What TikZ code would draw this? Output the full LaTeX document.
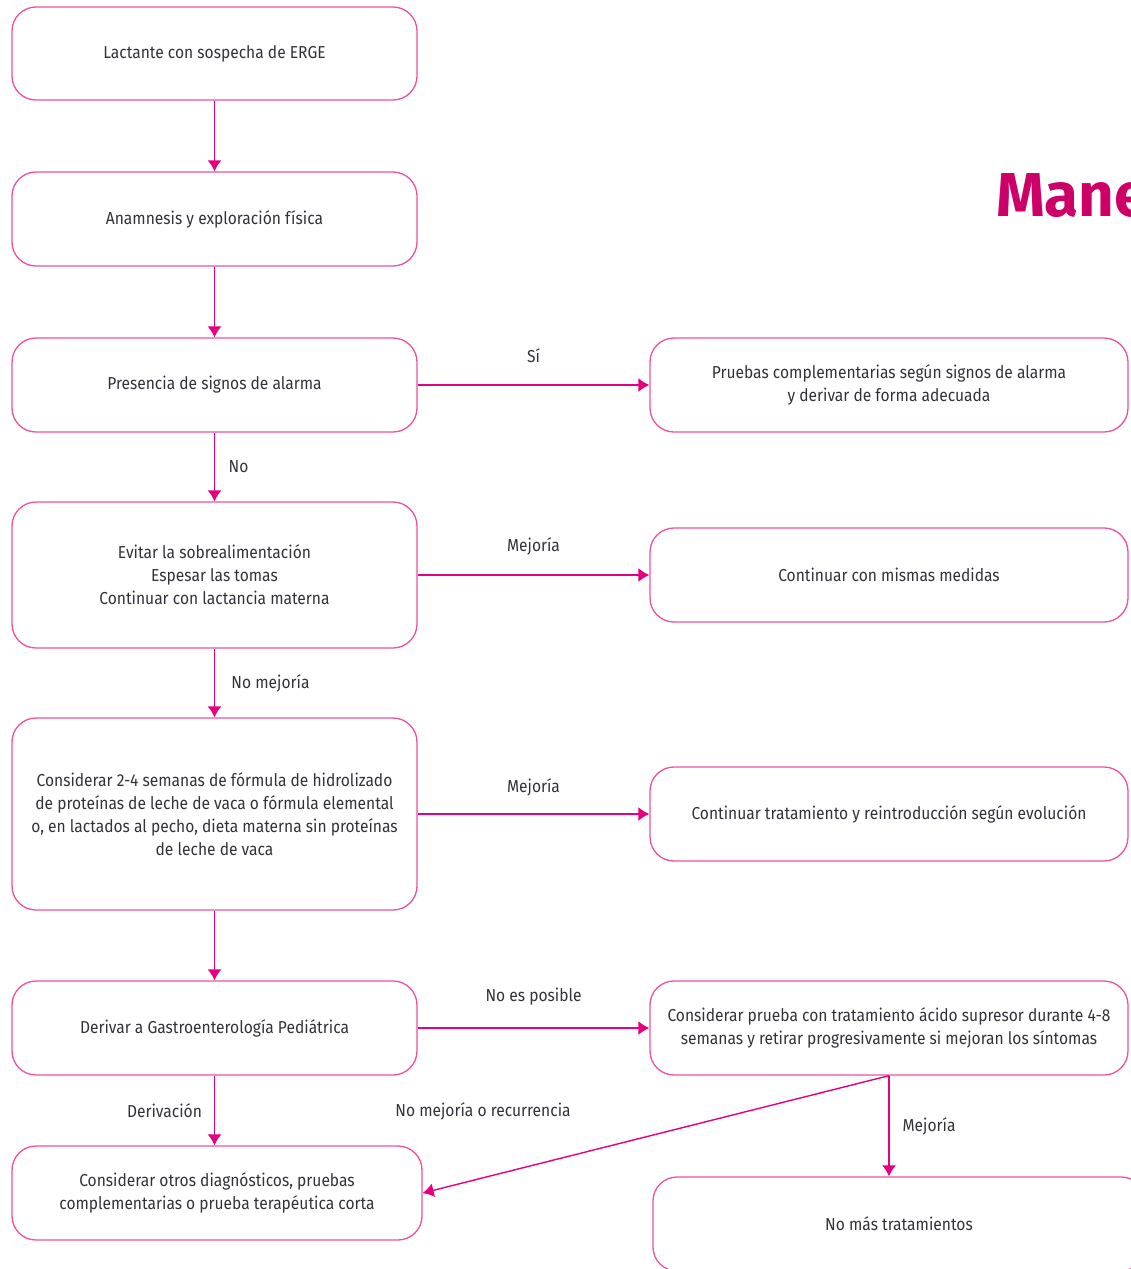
\documentclass[tikz,border=0pt]{standalone}
\usepackage{fontspec}
\setmainfont[FakeStretch=0.9]{Fira Sans}
\newfontfamily\titelfont{Fira Sans}
\usetikzlibrary{arrows.meta}
\definecolor{rosa}{RGB}{238,80,160}
\definecolor{fucsia}{RGB}{230,0,126}
\definecolor{titel}{RGB}{204,0,102}
\definecolor{texto}{RGB}{50,50,58}
\newcommand\boxh{94pt}

\begin{document}
\begin{tikzpicture}[x=1pt,y=-1pt,
  box/.style={draw=rosa, line width=1.3pt, rounded corners=24pt, inner sep=0pt,
    align=center, text=texto, font=\fontsize{17.3}{23}\selectfont},
  pfeil/.style={draw=fucsia, line width=1.4pt, -{Latex[length=11pt,width=14pt]}},
  lbl/.style={text=texto, font=\fontsize{17.3}{23}\selectfont}]

% Variablen
\def\lbreite{405pt}
\def\rbreite{478pt}
\useasboundingbox (0,0) rectangle (1130,1269);

% Titel
\node[anchor=base west, inner sep=0pt, text=titel,
  font=\titelfont\bfseries\fontsize{62}{70}\selectfont] (Titel) at (996,216) {Mane};

% Linke Spalte
\draw (214.5,53.5) node[box, minimum width=\lbreite, minimum height=93pt] (Lactante) {Lactante con sospecha de ERGE};
\draw (214.5,219) node[box, minimum width=\lbreite, minimum height=\boxh] (Anamnesis) {Anamnesis y exploración física};
\draw (214.5,385) node[box, minimum width=\lbreite, minimum height=\boxh] (Alarma) {Presencia de signos de alarma};
\draw (214.5,575) node[box, minimum width=\lbreite, minimum height=146pt] (Medidas) {Evitar la sobrealimentación\\Espesar las tomas\\Continuar con lactancia materna};
\draw (214.5,814) node[box, minimum width=\lbreite, minimum height=192pt] (Hidrolizado) {Considerar 2-4 semanas de fórmula de hidrolizado\\de proteínas de leche de vaca o fórmula elemental\\o, en lactados al pecho, dieta materna sin proteínas\\de leche de vaca};
\draw (214.5,1028) node[box, minimum width=\lbreite, minimum height=\boxh] (Derivar) {Derivar a Gastroenterología Pediátrica};
\draw (217,1193) node[box, minimum width=410pt, minimum height=\boxh] (Otros) {Considerar otros diagnósticos, pruebas\\complementarias o prueba terapéutica corta};

% Rechte Spalte
\draw (889,385) node[box, minimum width=\rbreite, minimum height=\boxh] (Pruebas) {Pruebas complementarias según signos de alarma\\y derivar de forma adecuada};
\draw (889,575) node[box, minimum width=\rbreite, minimum height=\boxh] (Continuar) {Continuar con mismas medidas};
\draw (889,814) node[box, minimum width=\rbreite, minimum height=\boxh] (Reintro) {Continuar tratamiento y reintroducción según evolución};
\draw (889,1028) node[box, minimum width=\rbreite, minimum height=\boxh] (Supresor) {Considerar prueba con tratamiento ácido supresor durante 4-8\\semanas y retirar progresivamente si mejoran los síntomas};
\draw (899,1224) node[box, minimum width=492pt, minimum height=\boxh] (NoMas) {No más tratamientos};

% Striche
\draw[pfeil] (Lactante) -- (Anamnesis);
\draw[pfeil] (Anamnesis) -- (Alarma);
\draw[pfeil] (Alarma) -- (Pruebas) node[lbl, midway, yshift=29pt] {Sí};
\draw[pfeil] (Alarma) -- (Medidas) node[lbl, midway, xshift=24pt] {No};
\draw[pfeil] (Medidas) -- (Continuar) node[lbl, midway, yshift=29pt] {Mejoría};
\draw[pfeil] (Medidas) -- (Hidrolizado) node[lbl, midway, xshift=56pt] {No mejoría};
\draw[pfeil] (Hidrolizado) -- (Reintro) node[lbl, midway, yshift=27pt] {Mejoría};
\draw[pfeil] (Hidrolizado) -- (Derivar);
\draw[pfeil] (Derivar) -- (Supresor) node[lbl, midway, yshift=31pt] {No es posible};
\draw[pfeil] (Derivar.south) -- (Derivar.south |- Otros.north) node[lbl, midway, xshift=-50pt] {Derivación};
\draw[pfeil] (Supresor.south) -- (Otros.east);
\draw[pfeil] (Supresor.south) -- (Supresor.south |- NoMas.north) node[lbl, midway, xshift=40pt] {Mejoría};
\node[lbl] (Rezidiv) at (483,1111) {No mejoría o recurrencia};

\end{tikzpicture}
\end{document}
